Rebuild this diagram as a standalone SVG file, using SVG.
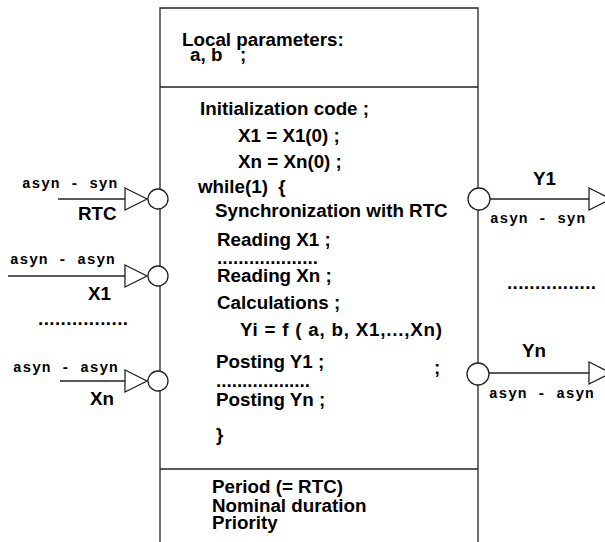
<svg xmlns="http://www.w3.org/2000/svg" width="605" height="542" viewBox="0 0 605 542">
  <style>
    .ln { stroke: #222; stroke-width: 1.3; fill: none; }
    .port { stroke: #222; stroke-width: 1.3; fill: #fff; }
    .t { font-family: "Liberation Sans", Arial, sans-serif; font-weight: bold; font-size: 18.8px; fill: #000; }
    .m { font-family: "Liberation Mono", "Courier New", monospace; font-weight: bold; font-size: 14.5px; letter-spacing: 0.9px; fill: #000; }
  </style>
  <defs>
    <polygon id="tri" points="0,-11 22,0 0,11" class="port"/>
    <circle id="portc" r="10" class="port"/>
  </defs>

  <!-- task body -->
  <g id="task">
    <path class="ln" d="M160,542 V8 H478 V542"/>
    <line class="ln" x1="160" y1="87" x2="478" y2="87"/>
    <line class="ln" x1="160" y1="469" x2="478" y2="469"/>
    <text class="t" x="182" y="46">Local parameters:</text>
    <text class="t" x="190" y="61">a, b<tspan x="240">;</tspan></text>
    <text class="t" x="200" y="115">Initialization code ;</text>
    <text class="t" x="238" y="142">X1 = X1(0) ;</text>
    <text class="t" x="238" y="168">Xn = Xn(0) ;</text>
    <text class="t" x="198" y="193" xml:space="preserve">while(1)  {</text>
    <text class="t" x="215" y="217">Synchronization with RTC</text>
    <text class="t" x="217" y="246">Reading X1 ;</text>
    <text class="t" x="217" y="264" textLength="101" lengthAdjust="spacing">...................</text>
    <text class="t" x="217" y="282">Reading Xn ;</text>
    <text class="t" x="217" y="309">Calculations ;</text>
    <text class="t" x="240" y="336" textLength="202" lengthAdjust="spacing">Yi = f ( a, b, X1,...,Xn)</text>
    <text class="t" x="216" y="368">Posting Y1 ;</text>
    <text class="t" x="434" y="374">;</text>
    <text class="t" x="216" y="387" textLength="94" lengthAdjust="spacing">..................</text>
    <text class="t" x="216" y="406">Posting Yn ;</text>
    <text class="t" x="216" y="441">}</text>
    <text class="t" x="212" y="493">Period (= RTC)</text>
    <text class="t" x="212" y="512">Nominal duration</text>
    <text class="t" x="212" y="529">Priority</text>
  </g>

  <!-- connectors -->
  <g id="connectors">
    <line class="ln" x1="58" y1="199" x2="125" y2="199"/>
    <line class="ln" x1="8" y1="276" x2="125" y2="276"/>
    <line class="ln" x1="60" y1="381" x2="125" y2="381"/>
    <line class="ln" x1="490" y1="199" x2="589" y2="199"/>
    <line class="ln" x1="489" y1="373" x2="589" y2="373"/>
  </g>

  <!-- input RTC -->
  <g id="in-rtc">
    <use href="#tri" x="125" y="199"/>
    <use href="#portc" x="158" y="199"/>
    <text class="m" x="22" y="188">asyn - syn</text>
    <text class="t" x="78" y="220">RTC</text>
  </g>

  <!-- input X1 -->
  <g id="in-x1">
    <use href="#tri" x="125" y="276"/>
    <use href="#portc" x="158" y="276"/>
    <text class="m" x="10" y="264">asyn - asyn</text>
    <text class="t" x="88" y="300">X1</text>
  </g>

  <text class="t" x="38" y="325" textLength="90" lengthAdjust="spacing">................</text>

  <!-- input Xn -->
  <g id="in-xn">
    <use href="#tri" x="125" y="381"/>
    <use href="#portc" x="158" y="381"/>
    <text class="m" x="13" y="372">asyn - asyn</text>
    <text class="t" x="90" y="405">Xn</text>
  </g>

  <!-- output Y1 -->
  <g id="out-y1">
    <use href="#tri" x="589" y="199"/>
    <circle class="port" cx="479" cy="199" r="11"/>
    <text class="t" x="533" y="185">Y1</text>
    <text class="m" x="490" y="223">asyn - syn</text>
  </g>

  <text class="t" x="507" y="289" textLength="89" lengthAdjust="spacing">................</text>

  <!-- output Yn -->
  <g id="out-yn">
    <use href="#tri" x="589" y="373"/>
    <circle class="port" cx="478" cy="374" r="11"/>
    <text class="t" x="522" y="357">Yn</text>
    <text class="m" x="489" y="398">asyn - asyn</text>
  </g>
</svg>
